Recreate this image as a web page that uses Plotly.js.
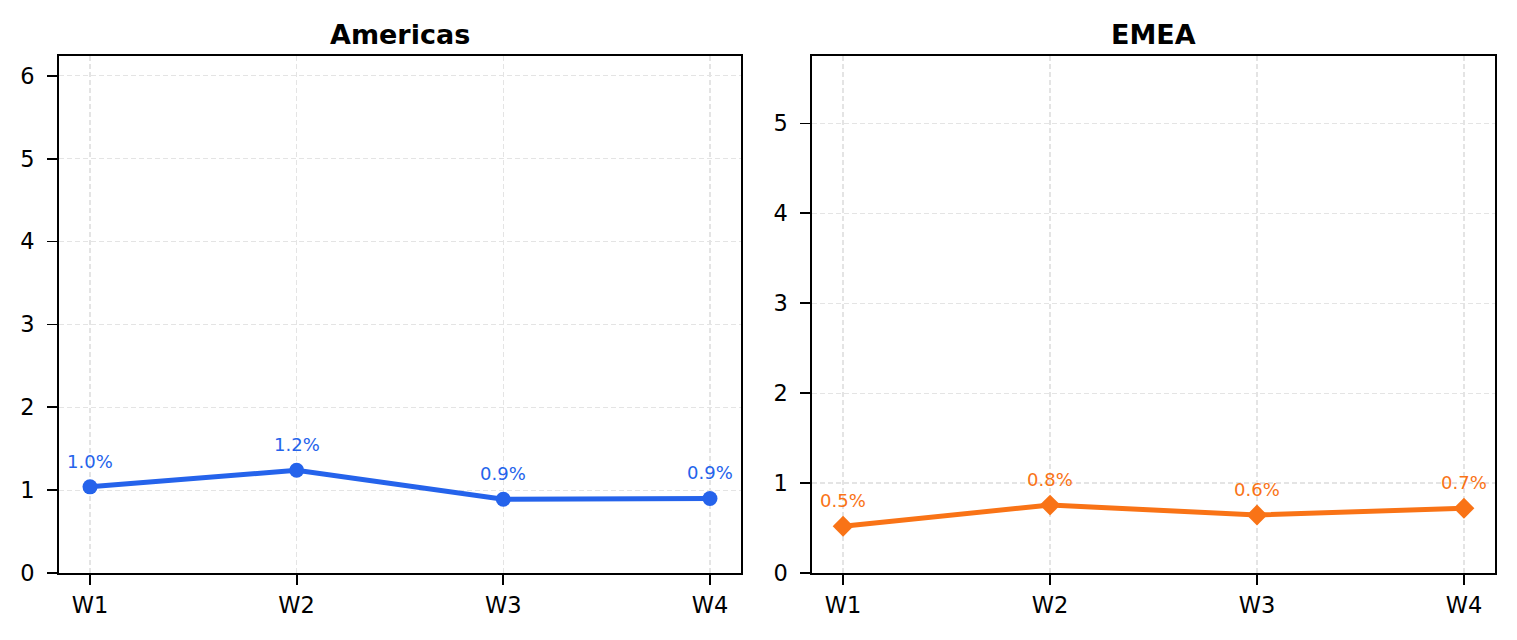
<!DOCTYPE html>
<html>
<head>
<meta charset="utf-8">
<script src="https://cdn.plot.ly/plotly-3.0.1.min.js"></script>
<style>
  html, body { margin: 0; padding: 0; background: #ffffff; }
  #chart { width: 1517px; height: 640px; }
</style>
</head>
<body>
<div id="chart"></div>
<script>
// ------------------------------------------------------------------------------
// DATA

const weeks         = ['W1', 'W2', 'W3', 'W4'];
const americas_vals = [1.04, 1.24, 0.89, 0.90];
const emea_vals     = [0.52, 0.756, 0.645, 0.72];
const americas_lbls = ['1.0%', '1.2%', '0.9%', '0.9%'];
const emea_lbls     = ['0.5%', '0.8%', '0.6%', '0.7%'];

const blue   = '#2563eb';
const orange = '#f97316';
const font_family = '"DejaVu Sans", Arial, sans-serif';

// ------------------------------------------------------------------------------
// TRACES

const traces = [
    {
        x: weeks,
        y: americas_vals,
        mode: 'lines+markers',
        type: 'scatter',
        line: { color: blue, width: 5 },
        marker: { color: blue, size: 15, symbol: 'circle' },
        xaxis: 'x',
        yaxis: 'y',
        hoverinfo: 'none',
        showlegend: false
    },
    {
        x: weeks,
        y: emea_vals,
        mode: 'lines+markers',
        type: 'scatter',
        line: { color: orange, width: 5 },
        marker: { color: orange, size: 16, symbol: 'diamond' },
        xaxis: 'x2',
        yaxis: 'y2',
        hoverinfo: 'none',
        showlegend: false
    }
];

// value labels above each point
const annotations = [];
weeks.forEach((w, i) => {
    annotations.push({
        x: w, y: americas_vals[i], xref: 'x', yref: 'y',
        text: americas_lbls[i], showarrow: false,
        yanchor: 'bottom', yshift: 13,
        font: { family: font_family, size: 18, color: blue }
    });
    annotations.push({
        x: w, y: emea_vals[i], xref: 'x2', yref: 'y2',
        text: emea_lbls[i], showarrow: false,
        yanchor: 'bottom', yshift: 13,
        font: { family: font_family, size: 18, color: orange }
    });
});

// subplot titles
annotations.push({
    text: '<b>Americas</b>', xref: 'x domain', yref: 'paper',
    x: 0.5, y: 1, yanchor: 'bottom', yshift: 4, showarrow: false,
    font: { family: font_family, size: 27, color: '#000000' }
});
annotations.push({
    text: '<b>EMEA</b>', xref: 'x2 domain', yref: 'paper',
    x: 0.5, y: 1, yanchor: 'bottom', yshift: 4, showarrow: false,
    font: { family: font_family, size: 27, color: '#000000' }
});

function xAxis(domain) {
    return {
        domain: domain,
        type: 'category',
        range: [-0.15, 3.15],
        showline: true, mirror: true, linecolor: '#000000', linewidth: 1.8,
        ticks: 'outside', ticklen: 10, tickwidth: 1.8, tickcolor: '#000000',
        ticklabelstandoff: 1,
        showgrid: true, gridcolor: '#e4e4e4', griddash: '5px,3px', gridwidth: 1.2,
        zeroline: false,
        tickfont: { family: font_family, size: 22.5, color: '#000000' },
        automargin: false
    };
}

function yAxis(range, anchor) {
    return {
        range: range,
        anchor: anchor,
        dtick: 1,
        showline: true, mirror: true, linecolor: '#000000', linewidth: 1.8,
        ticks: 'outside', ticklen: 10, tickwidth: 1.8, tickcolor: '#000000',
        ticklabelstandoff: 8,
        showgrid: true, gridcolor: '#e4e4e4', griddash: '5px,3px', gridwidth: 1.2,
        zeroline: false,
        tickfont: { family: font_family, size: 22.5, color: '#000000' },
        automargin: false
    };
}

const layout = {
    width: 1517,
    height: 640,
    paper_bgcolor: '#ffffff',
    plot_bgcolor: '#ffffff',
    margin: { l: 59, r: 22, t: 56, b: 67 },
    xaxis:  Object.assign(xAxis([0, 0.4749]), { anchor: 'y' }),
    yaxis:  yAxis([0, 6.24], 'x'),
    xaxis2: Object.assign(xAxis([0.5244, 1]), { anchor: 'y2' }),
    yaxis2: yAxis([0, 5.75], 'x2'),
    annotations: annotations,
    font: { family: font_family }
};

Plotly.newPlot('chart', traces, layout, { displayModeBar: false, staticPlot: true });
</script>
</body>
</html>
